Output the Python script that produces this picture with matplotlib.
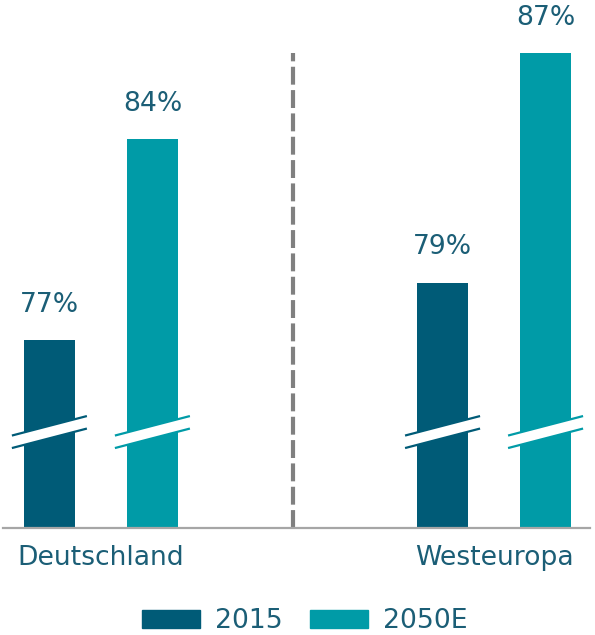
import numpy as np
import matplotlib
matplotlib.use('Agg')
import matplotlib.pyplot as plt
from matplotlib.patches import Patch, Polygon

# data
regions = ['Deutschland', 'Westeuropa']
series = ['2015', '2050E']
val_2015 = [77, 79]
val_2050 = [84, 87]

c_2015 = '#005B77'
c_2050 = '#009BA7'
c_text = '#1B5E76'
fs = 19.2

plt.rcParams['font.family'] = ['DejaVu Sans']

fig = plt.figure(figsize=(5.95, 6.35), dpi=100)
W, H = 595, 635
ax = fig.add_axes([3 / W, (H - 528) / H, 587 / W, 528 / H])

x = np.arange(len(regions))
bw = 0.13
off = 0.131

b1 = ax.bar(x - off, val_2015, width=bw, color=c_2015, label=series[0])
b2 = ax.bar(x + off, val_2050, width=bw, color=c_2050, label=series[1])

ax.set_xlim(-0.249, 1.244)
ax.set_ylim(70.46, 88.84)

# value labels
for bars in (b1, b2):
    for r in bars:
        ax.annotate('%d%%' % r.get_height(),
                    (r.get_x() + r.get_width() / 2, r.get_height()),
                    xytext=(0, 16), textcoords='offset points',
                    ha='center', va='bottom', fontsize=fs, color=c_text)

# break marks (axis does not start at 0)
break_at = 73.8
inv = ax.transData.inverted()
for bars, col in ((b1, c_2015), (b2, c_2050)):
    for r in bars:
        cx, cy = ax.transData.transform((r.get_x() + r.get_width() / 2, break_at))
        up = [(-37.5, -3.5), (37.5, 16)]
        lo = [(-37.5, -16), (37.5, 3.5)]
        pts = inv.transform([(cx + a, cy + b) for a, b in up + lo[::-1]])
        ax.add_patch(Polygon(pts, closed=True, facecolor='white',
                             edgecolor='none', zorder=3))
        for seg in (up, lo):
            p = inv.transform([(cx + a, cy + b) for a, b in seg])
            ax.plot(p[:, 0], p[:, 1], color=col, lw=1.6, zorder=4,
                    solid_capstyle='butt')

# divider
ax.axvline(0.489, ymin=0, ymax=0.9, color='#808080', lw=3, ls=(0, (4.3, 1.3)))

for s in ['top', 'right', 'left']:
    ax.spines[s].set_visible(False)
ax.spines['bottom'].set_color('#A6A6A6')
ax.spines['bottom'].set_linewidth(1.6)
ax.set_yticks([])
ax.set_xticks(x)
ax.set_xticklabels(regions, fontsize=fs, color=c_text)
ax.tick_params(axis='x', length=0, pad=12)

handles = [Patch(color=c_2015), Patch(color=c_2050)]
fig.legend(handles, series, loc='lower center', bbox_to_anchor=(0.512, -0.022),
           ncol=2, frameon=False, fontsize=fs, labelcolor=c_text,
           handlelength=2.2, handleheight=0.7, handletextpad=0.55,
           columnspacing=1.0, borderpad=0.05)

fig.savefig('out.png', dpi=100)
